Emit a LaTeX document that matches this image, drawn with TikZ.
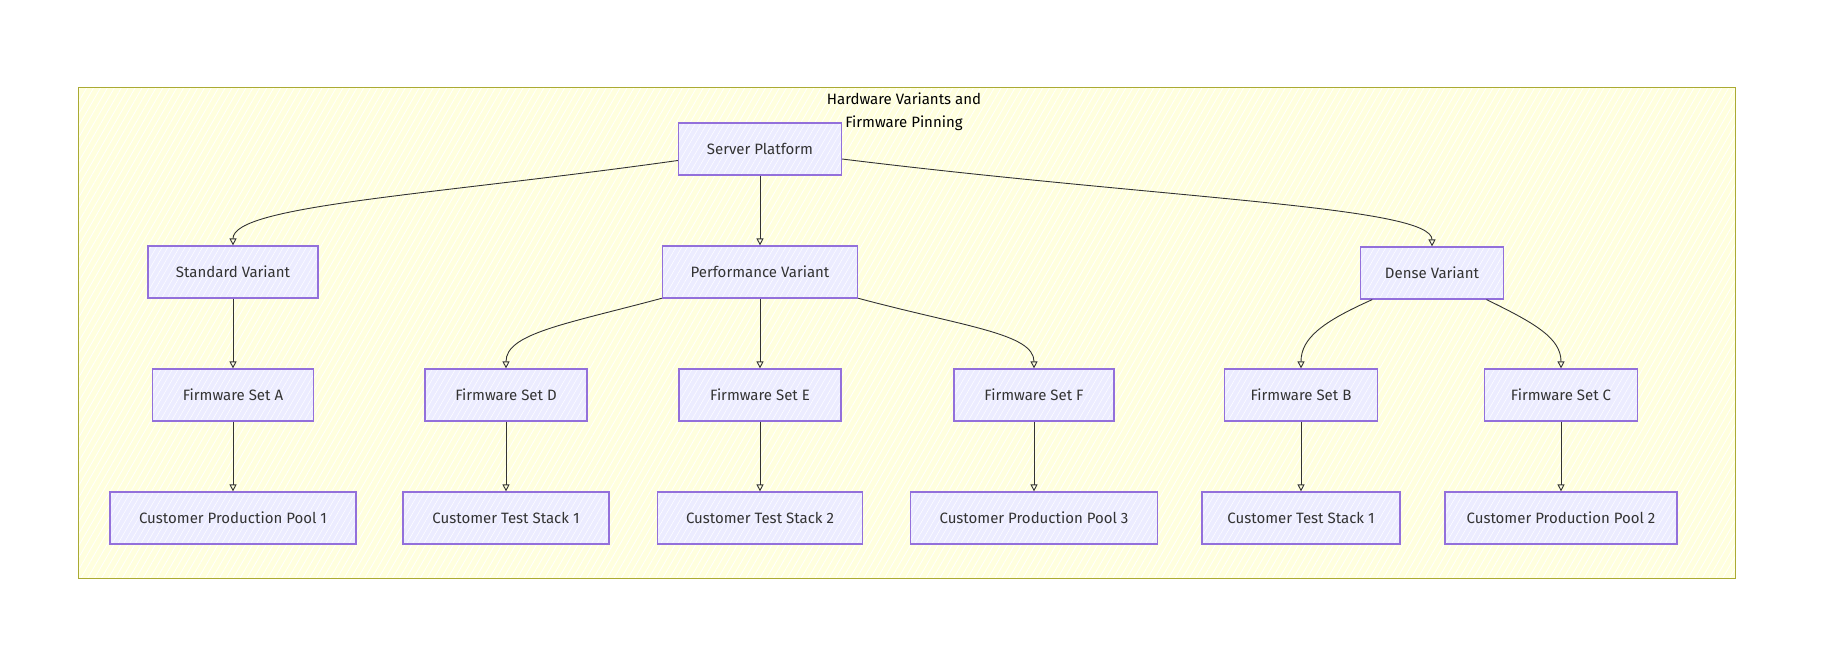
\documentclass[tikz,border=0pt]{standalone}
\usepackage{fontspec}
\setmainfont{Fira Sans}
\usetikzlibrary{arrows.meta}
\usetikzlibrary{patterns.meta}
\definecolor{nodeFill}{HTML}{ECECFF}
\definecolor{nodeLine}{HTML}{9370DB}
\definecolor{clusterFill}{HTML}{FFFFDE}
\definecolor{clusterLine}{HTML}{AAAA33}
\definecolor{edgeLine}{HTML}{333333}

\begin{document}
\begin{tikzpicture}
[x=1pt,y=1pt,%
  lineDecorate/.style={-{Triangle[open,length=7pt,width=7pt]},draw=edgeLine,line width=0.9pt},%
  boxDecorate/.style={draw=nodeLine,line width=1.2pt,minimum height=52pt,inner xsep=0pt,%
    text=edgeLine,font=\fontsize{15}{18}\selectfont,%
    preaction={fill=nodeFill},%
    preaction={pattern={Lines[angle=60,distance=5pt,line width=0.5pt]},pattern color=white}},%
  clusterDecorate/.style={draw=clusterLine,line width=1pt,%
    preaction={fill=clusterFill},%
    preaction={pattern={Lines[angle=60,distance=6pt,line width=0.8pt]},pattern color=white}}]
\useasboundingbox (0,0) rectangle (1822,-658);
%% cluster and its title
\node[clusterDecorate,minimum width=1657,minimum height=490] (cluster) at (906.5,-333) {};
\node[align=center,font=\fontsize{15}{23}\selectfont] (title) at (904,-112)
  {Hardware Variants and\\Firmware Pinning};
%% nodes
\foreach \nodename/\x/\y/\w/\lbl in {
  srv/760/149/163/Server Platform,
  std/233/272/170/Standard Variant, perf/760/272/195/Performance Variant,
  dense/1432/273/143/Dense Variant,
  fwA/233/395/161/Firmware Set A, fwD/506/395/162/Firmware Set D,
  fwE/760/395/162/Firmware Set E, fwF/1034/395/160/Firmware Set F,
  fwB/1301/395/153/Firmware Set B, fwC/1561/395/153/Firmware Set C,
  poolA/233/518/246/Customer Production Pool 1, testD/506/518/206/Customer Test Stack 1,
  testE/760/518/205/Customer Test Stack 2, poolF/1034/518/247/Customer Production Pool 3,
  testB/1301/518/198/Customer Test Stack 1, poolC/1561/518/232/Customer Production Pool 2}
{
  \node[boxDecorate,minimum width=\w] (\nodename) at (\x,-\y) {\lbl};
}
%% connect nodes
\path[lineDecorate]
(srv) edge[out=188,in=90,out distance=250,in distance=40] (std)
(srv) edge (perf)
(srv) edge[out=-7,in=90,out distance=330,in distance=40] (dense)
(std) edge (fwA)
(perf) edge[out=195,in=90,out distance=100,in distance=35] (fwD)
(perf) edge (fwE)
(perf) edge[out=-15,in=90,out distance=110,in distance=35] (fwF)
(dense) edge[out=204,in=90,out distance=55,in distance=30] (fwB)
(dense) edge[out=-26,in=90,out distance=55,in distance=30] (fwC)
(fwA) edge (poolA)
(fwD) edge (testD)
(fwE) edge (testE)
(fwF) edge (poolF)
(fwB) edge (testB)
(fwC) edge (poolC);
\end{tikzpicture}
\end{document}
